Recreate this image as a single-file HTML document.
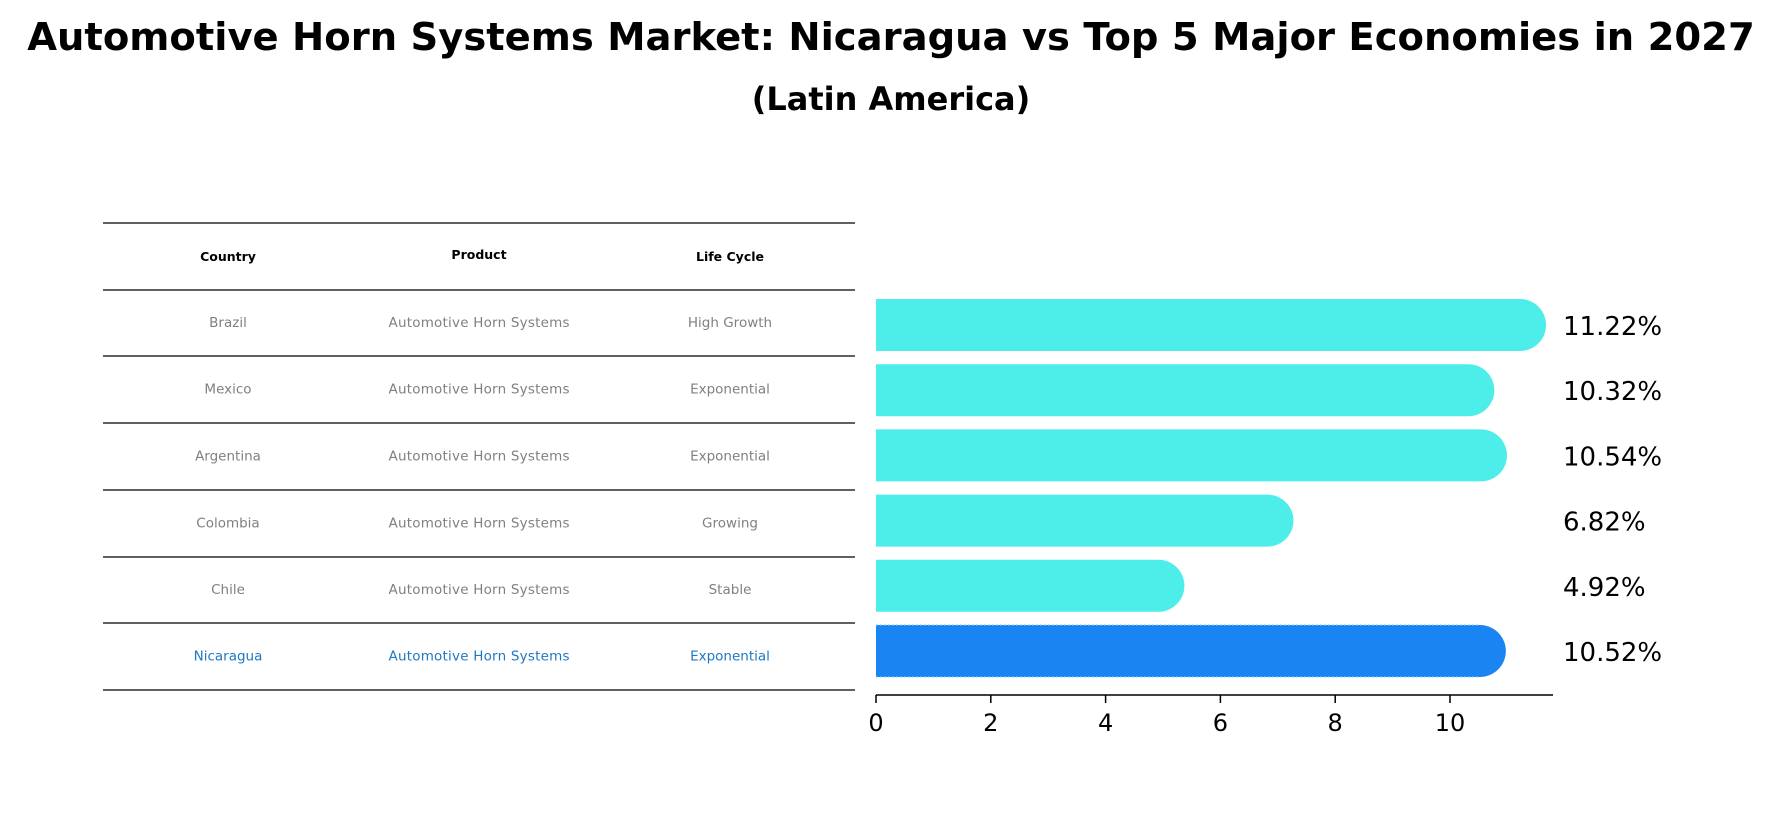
<!DOCTYPE html>
<html><head><meta charset="utf-8"><style>
body{margin:0;background:#fff;}
svg{display:block;font-family:"DejaVu Sans","Liberation Sans",sans-serif;}
</style></head><body>
<svg id="chart" width="1782" height="823" viewBox="0 0 1782 823">
<text x="891" y="50" text-anchor="middle" font-size="38.5" font-weight="bold">Automotive Horn Systems Market: Nicaragua vs Top 5 Major Economies in 2027</text>
<text x="891" y="110" text-anchor="middle" font-size="32" font-weight="bold">(Latin America)</text>
<g id="table"></g>
<g id="bars"></g>
</svg>
<script>
const countries = ["Brazil","Mexico","Argentina","Colombia","Chile","Nicaragua"];
const products = ["Automotive Horn Systems","Automotive Horn Systems","Automotive Horn Systems","Automotive Horn Systems","Automotive Horn Systems","Automotive Horn Systems"];
const lifeCycles = ["High Growth","Exponential","Exponential","Growing","Stable","Exponential"];
const growthValues = [11.22,10.32,10.54,6.82,4.92,10.52];
const xTicks = [0,2,4,6,8,10];
const NS="http://www.w3.org/2000/svg";
function mk(tag,attrs,parent,txt){const e=document.createElementNS(NS,tag);for(const k in attrs)e.setAttribute(k,attrs[k]);if(txt!==undefined)e.textContent=txt;parent.appendChild(e);return e;}
const tbl=document.getElementById('table');
const lineYs=[223,290,356,423,490,557,623,690];
const colX=[228,479,730];
for(const y of lineYs){const l=mk('line',{x1:103,x2:855,y1:y,y2:y,stroke:'#000','stroke-width':1.2},tbl);

}
const heads=["Country","Product","Life Cycle"];
heads.forEach((h,i)=>{const t=mk('text',{x:colX[i],y:i==1?259:261,'text-anchor':'middle','font-size':12.5,'font-weight':'bold'},tbl,h);

});
countries.forEach((c,r)=>{const y=(lineYs[r+1]+lineYs[r+2])/2+4;const col=r==countries.length-1?'#1f77c4':'#808080';
[c,products[r],lifeCycles[r]].forEach((v,i)=>{const t=mk('text',{x:colX[i],y:y,'text-anchor':'middle','font-size':13.5,fill:col,'textLength':i==1?181:undefined},tbl,v);
if(i!=1)t.removeAttribute('textLength');

});});
const bars=document.getElementById('bars');
const x0=876, pxPer=57.4;
const xs=v=>x0+v*pxPer;
const yCenter=i=>325+i*65.2;
const bh=52;
growthValues.forEach((v,i)=>{const last=i==growthValues.length-1;const col=last?'#1a85f2':'#4deeea';
const yc=yCenter(i);
const p=mk('path',{d:`M${x0} ${yc-bh/2} H${xs(v)} A${bh/2} ${bh/2} 0 0 1 ${xs(v)} ${yc+bh/2} H${x0} Z`,fill:col},bars);


if(last){const o=mk('path',{d:`M${x0} ${yc-bh/2} H${xs(v)} M${x0} ${yc+bh/2} H${xs(v)}`,fill:'none',stroke:'#8cc8ff','stroke-width':1,'stroke-dasharray':'2 2'},bars);

}
const t=mk('text',{x:1563,y:yc+10,'font-size':26},bars,v.toFixed(2)+'%');

});
const ax=mk('line',{x1:x0,x2:1553,y1:695,y2:695,stroke:'#000','stroke-width':1.5},bars);


xTicks.forEach(v=>{const tk=mk('line',{x1:xs(v),x2:xs(v),y1:695,y2:703,stroke:'#000','stroke-width':1.5},bars);


const tl=mk('text',{x:xs(v),y:731,'text-anchor':'middle','font-size':24},bars,String(v));

});
</script>
</body></html>
